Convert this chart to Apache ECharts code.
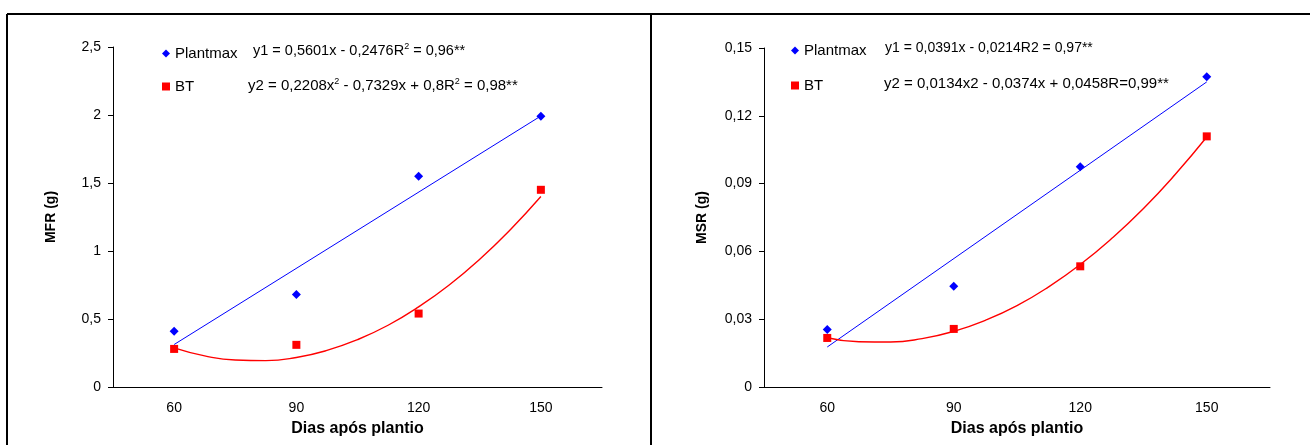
<!DOCTYPE html>
<html>
<head>
<meta charset="utf-8">
<script src="https://cdn.jsdelivr.net/npm/echarts@6/dist/echarts.min.js"></script>
<style>
  html, body { margin: 0; padding: 0; background: #fff; }
  #chart { width: 1310px; height: 445px; }
</style>
</head>
<body>
<div id="chart"></div>
<script>
var dias = ['60', '90', '120', '150'];

// pontos observados
var plantmaxMFR = [0.41, 0.68, 1.55, 1.99];
var btMFR = [0.28, 0.31, 0.54, 1.45];
var plantmaxMSR = [0.0254, 0.0446, 0.0975, 0.1373];
var btMSR = [0.0217, 0.0257, 0.0534, 0.1109];

// linhas de tendencia
var trendPlantmaxMFR = [[60, 0.3125], [150, 1.9928]];
var trendBtMFR = [[60, 0.288], [67.5, 0.229], [75, 0.198], [82.5, 0.194], [90, 0.217], [97.5, 0.269],
    [105, 0.348], [112.5, 0.454], [120, 0.589], [127.5, 0.75], [135, 0.94], [142.5, 1.157], [150, 1.401]];
var trendPlantmaxMSR = [[60, 0.0177], [150, 0.135]];
var trendBtMSR = [[60, 0.0218], [67.5, 0.02], [75, 0.0199], [82.5, 0.0214], [90, 0.0246], [97.5, 0.0295],
    [105, 0.036], [112.5, 0.0443], [120, 0.0542], [127.5, 0.0658], [135, 0.079], [142.5, 0.094], [150, 0.1106]];

var dom = document.getElementById('chart');
var myChart = echarts.init(dom);

var FONT = '"Liberation Sans", Arial, sans-serif';
var virgula = function (v) { return String(v).replace('.', ','); };

function catAxis(grid) {
    return {
        type: 'category',
        gridIndex: grid,
        data: dias,
        boundaryGap: true,
        name: 'Dias após plantio',
        nameLocation: 'middle',
        nameGap: 34,
        nameTextStyle: { color: '#000', fontFamily: FONT, fontSize: 16, fontWeight: 'bold' },
        axisLine: { lineStyle: { color: '#000', width: 1 } },
        axisTick: { length: 6, lineStyle: { color: '#000' } },
        axisLabel: { color: '#000', fontFamily: FONT, fontSize: 14, margin: 14 },
        splitLine: { show: false }
    };
}

function hiddenAxis(grid) {
    return { type: 'value', gridIndex: grid, min: 45, max: 165, show: false };
}

function yAxis(grid, name, max, interval, nameGap) {
    return {
        type: 'value',
        gridIndex: grid,
        min: 0,
        max: max,
        interval: interval,
        name: name,
        nameLocation: 'middle',
        nameGap: nameGap,
        nameTextStyle: { color: '#000', fontFamily: FONT, fontSize: 14, fontWeight: 'bold' },
        axisLine: { show: true, lineStyle: { color: '#000', width: 1 } },
        axisTick: { show: true, length: 5, lineStyle: { color: '#000' } },
        axisLabel: { color: '#000', fontFamily: FONT, fontSize: 14, margin: 12, formatter: virgula },
        splitLine: { show: false }
    };
}

function equacao(x, y, txt, size) {
    return {
        type: 'text', x: x, y: y,
        style: {
            text: txt, fill: '#000', font: size + 'px ' + FONT, verticalAlign: 'middle', lineHeight: 18,
            rich: { s: { fontSize: 9, verticalAlign: 'top', lineHeight: 18, fill: '#000' } }
        }
    };
}

var azul = { color: '#0000ff', opacity: 1 };
var vermelho = { color: '#ff0000', opacity: 1 };

option = {
    animation: false,
    backgroundColor: '#fff',
    grid: [
        { left: 113, right: 708, top: 47, bottom: 58 },
        { left: 764, right: 40, top: 48, bottom: 58 }
    ],
    xAxis: [catAxis(0), hiddenAxis(0), catAxis(1), hiddenAxis(1)],
    yAxis: [yAxis(0, 'MFR (g)', 2.5, 0.5, 55), yAxis(1, 'MSR (g)', 0.15, 0.03, 55)],
    legend: [
        {
            left: 157, top: 41, orient: 'vertical', itemGap: 18, itemWidth: 8, itemHeight: 8,
            data: [{ name: 'Plantmax', icon: 'diamond' }, { name: 'BT', icon: 'rect' }],
            textStyle: { color: '#000', fontFamily: FONT, fontSize: 15 },
            selectedMode: false
        },
        {
            left: 786, top: 38, orient: 'vertical', itemGap: 20, itemWidth: 8, itemHeight: 8,
            data: [{ name: 'Plantmax', icon: 'diamond' }, { name: 'BT', icon: 'rect' }],
            textStyle: { color: '#000', fontFamily: FONT, fontSize: 15 },
            selectedMode: false
        }
    ],
    series: [
        { name: 'tendPlantmaxMFR', type: 'line', xAxisIndex: 1, yAxisIndex: 0, data: trendPlantmaxMFR,
          showSymbol: false, lineStyle: { color: '#0000ff', width: 1 } },
        { name: 'tendBtMFR', type: 'line', xAxisIndex: 1, yAxisIndex: 0, data: trendBtMFR, smooth: true,
          showSymbol: false, lineStyle: { color: '#ff0000', width: 1.4 } },
        { name: 'Plantmax', type: 'scatter', xAxisIndex: 0, yAxisIndex: 0, data: plantmaxMFR,
          symbol: 'diamond', symbolSize: 9, itemStyle: azul },
        { name: 'BT', type: 'scatter', xAxisIndex: 0, yAxisIndex: 0, data: btMFR,
          symbol: 'rect', symbolSize: 8, itemStyle: vermelho },

        { name: 'tendPlantmaxMSR', type: 'line', xAxisIndex: 3, yAxisIndex: 1, data: trendPlantmaxMSR,
          showSymbol: false, lineStyle: { color: '#0000ff', width: 1 } },
        { name: 'tendBtMSR', type: 'line', xAxisIndex: 3, yAxisIndex: 1, data: trendBtMSR, smooth: true,
          showSymbol: false, lineStyle: { color: '#ff0000', width: 1.4 } },
        { name: 'Plantmax', type: 'scatter', xAxisIndex: 2, yAxisIndex: 1, data: plantmaxMSR,
          symbol: 'diamond', symbolSize: 9, itemStyle: azul },
        { name: 'BT', type: 'scatter', xAxisIndex: 2, yAxisIndex: 1, data: btMSR,
          symbol: 'rect', symbolSize: 8, itemStyle: vermelho }
    ],
    graphic: [
        // moldura dos paineis
        { type: 'line', shape: { x1: 7, y1: 14, x2: 1310, y2: 14 }, style: { stroke: '#000', lineWidth: 2 } },
        { type: 'line', shape: { x1: 7, y1: 14, x2: 7, y2: 445 }, style: { stroke: '#000', lineWidth: 2 } },
        { type: 'line', shape: { x1: 651, y1: 14, x2: 651, y2: 445 }, style: { stroke: '#000', lineWidth: 2 } },
        // equacoes
        equacao(253, 51, 'y1 = 0,5601x - 0,2476R{s|2} = 0,96**', 14.5),
        equacao(248, 86, 'y2 = 0,2208x{s|2} - 0,7329x + 0,8R{s|2} = 0,98**', 15),
        equacao(885, 48, 'y1 = 0,0391x - 0,0214R2 = 0,97**', 14),
        equacao(884, 84, 'y2 = 0,0134x2 - 0,0374x + 0,0458R=0,99**', 15)
    ]
};

if (option && typeof option === "object") {
    myChart.setOption(option, true);
}
</script>
</body>
</html>
